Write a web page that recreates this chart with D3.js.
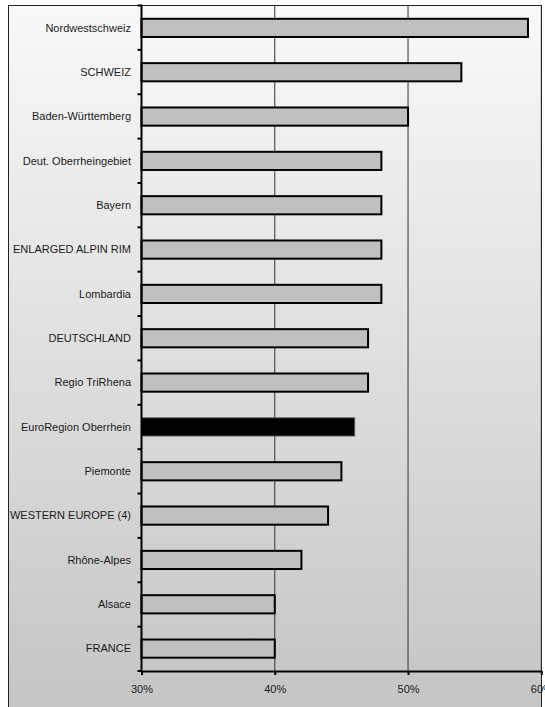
<!DOCTYPE html>
<html>
<head>
<meta charset="utf-8">
<script src="https://cdn.jsdelivr.net/npm/d3@7"></script>
<style>
  html, body { margin: 0; padding: 0; background: #ffffff; }
  svg { display: block; }
  text { font-family: "Liberation Sans", Arial, sans-serif; fill: #1a1a1a; }
</style>
</head>
<body>
<script>
// Regions, top to bottom
const regions = [
  "Nordwestschweiz", "SCHWEIZ", "Baden-Württemberg", "Deut. Oberrheingebiet",
  "Bayern", "ENLARGED ALPIN RIM", "Lombardia", "DEUTSCHLAND", "Regio TriRhena",
  "EuroRegion Oberrhein", "Piemonte", "WESTERN EUROPE (4)", "Rhône-Alpes",
  "Alsace", "FRANCE"
];
// Share in percent
const shares = [59, 54, 50, 48, 48, 48, 48, 47, 47, 46, 45, 44, 42, 40, 40];
const highlighted = ["EuroRegion Oberrhein"];
const xTicks = [30, 40, 50, 60];
const xDomain = [30, 60];

const W = 545, H = 707;
const margin = { top: 5.5, left: 141.5, right: 4, bottom: 36 };

const svg = d3.select("body").append("svg")
  .attr("width", W).attr("height", H);

// Background gradient frame
const grad = svg.append("defs").append("linearGradient")
  .attr("id", "bg").attr("x1", 0).attr("y1", 0).attr("x2", 0).attr("y2", 1);
grad.append("stop").attr("offset", "0%").attr("stop-color", "#f9f9f9");
grad.append("stop").attr("offset", "100%").attr("stop-color", "#c4c4c4");

svg.append("rect")
  .attr("x", 8.5).attr("y", 5.5)
  .attr("width", 533).attr("height", H + 10)
  .attr("fill", "url(#bg)")
  .attr("stroke", "#222").attr("stroke-width", 1);

const x = d3.scaleLinear().domain(xDomain).range([margin.left, 541.3]);
const y = d3.scaleBand().domain(regions)
  .range([margin.top, 671]).paddingInner(0.59).paddingOuter(0.3);
const yAxisBand = d3.scaleBand().domain(regions).range([margin.top, 671]);

// Vertical gridlines
svg.append("g").selectAll("line")
  .data(xTicks.filter(t => t > xDomain[0]))
  .join("line")
  .attr("x1", d => x(d)).attr("x2", d => x(d))
  .attr("y1", margin.top).attr("y2", 671)
  .attr("stroke", "#333").attr("stroke-width", 1);

// Bars
svg.append("g").selectAll("rect")
  .data(regions.map((r, i) => ({ r, v: shares[i] })))
  .join("rect")
  .attr("x", x(xDomain[0]))
  .attr("y", d => y(d.r))
  .attr("width", d => x(d.v) - x(xDomain[0]))
  .attr("height", y.bandwidth())
  .attr("fill", d => highlighted.includes(d.r) ? "#000" : "#c0c0c0")
  .attr("stroke", d => highlighted.includes(d.r) ? "#555" : "#000")
  .attr("stroke-width", d => highlighted.includes(d.r) ? 0.8 : 2);

// Category labels
svg.append("g").selectAll("text")
  .data(regions)
  .join("text")
  .attr("x", 131)
  .attr("y", d => y(d) + y.bandwidth() / 2)
  .attr("dy", "0.35em")
  .attr("text-anchor", "end")
  .attr("font-size", 11)
  .text(d => d);

// Left axis with tick marks between categories
const yTickPos = d3.range(regions.length + 1).map(i => margin.top + i * yAxisBand.step());
svg.append("g").selectAll("line")
  .data(yTickPos)
  .join("line")
  .attr("x1", margin.left - 4).attr("x2", margin.left)
  .attr("y1", d => d).attr("y2", d => d)
  .attr("stroke", "#000").attr("stroke-width", 2);
svg.append("line")
  .attr("x1", margin.left).attr("x2", margin.left)
  .attr("y1", margin.top - 1).attr("y2", 672)
  .attr("stroke", "#000").attr("stroke-width", 2);

// Bottom axis
const xAxis = d3.axisBottom(x).tickValues(xTicks)
  .tickFormat(d => d + "%").tickSize(4).tickSizeOuter(0).tickPadding(10);
const gx = svg.append("g").attr("transform", "translate(0,671)").call(xAxis);
gx.select(".domain").attr("stroke", "#000").attr("stroke-width", 2);
gx.selectAll(".tick line").attr("stroke", "#000").attr("stroke-width", 2);
gx.selectAll(".tick text")
  .attr("font-size", 11)
  .attr("font-family", "Liberation Sans, Arial, sans-serif")
  .attr("fill", "#1a1a1a");
</script>
</body>
</html>
